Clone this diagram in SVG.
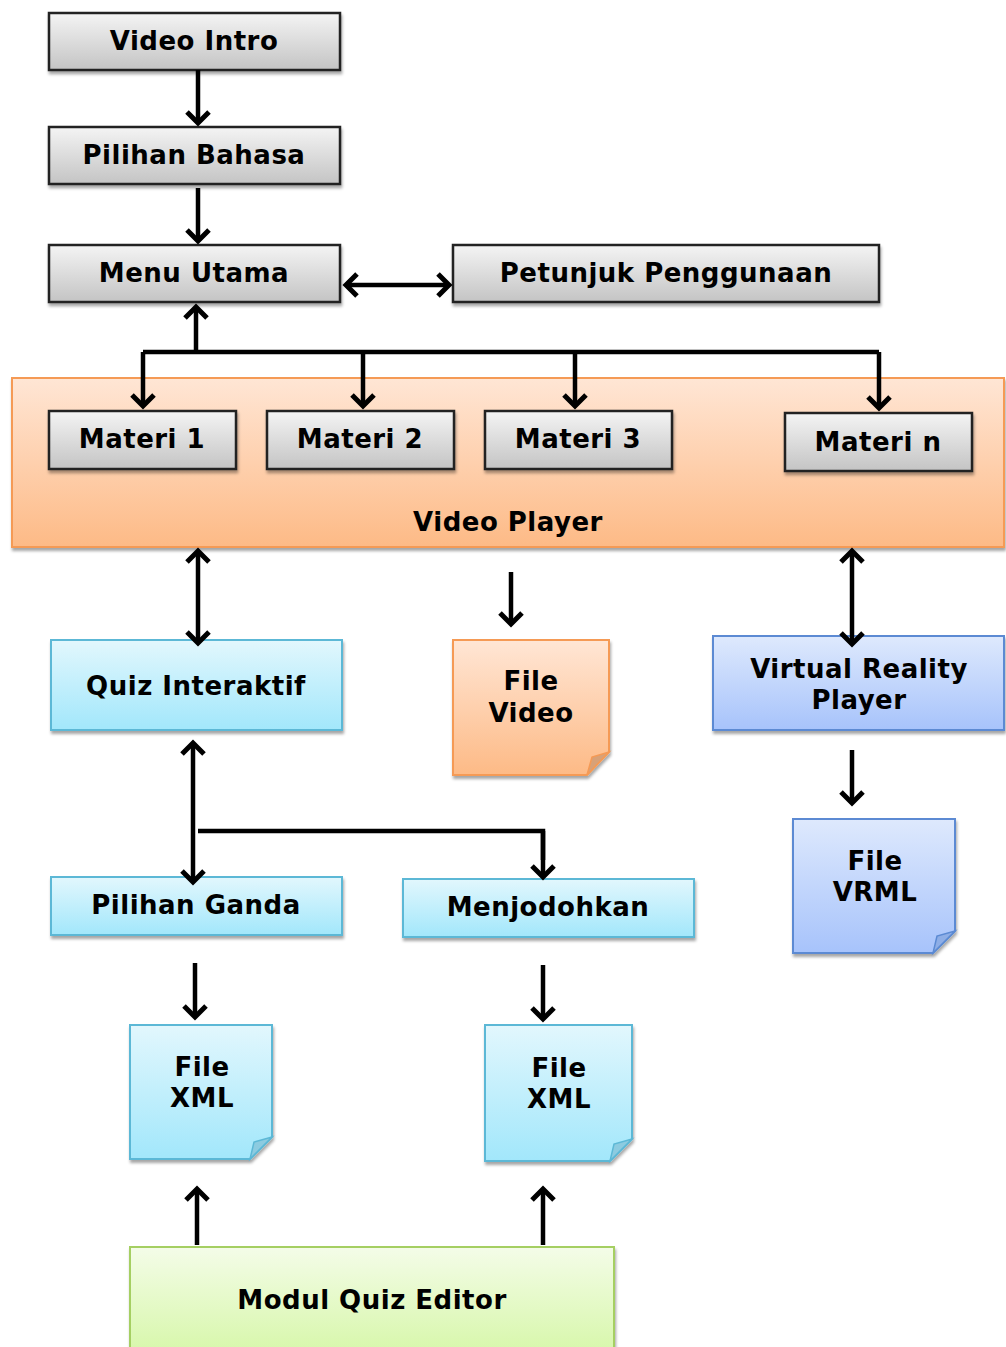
<svg xmlns="http://www.w3.org/2000/svg" width="1006" height="1347" viewBox="0 0 1006 1347">
<defs>
<linearGradient id="gGray" x1="0" y1="0" x2="0" y2="1"><stop offset="0" stop-color="#f4f4f4"/><stop offset="1" stop-color="#c4c4c4"/></linearGradient>
<linearGradient id="gOrange" x1="0" y1="0" x2="0" y2="1"><stop offset="0" stop-color="#ffe6d5"/><stop offset="1" stop-color="#fdba86"/></linearGradient>
<linearGradient id="gCyan" x1="0" y1="0" x2="0" y2="1"><stop offset="0" stop-color="#e2f7fd"/><stop offset="1" stop-color="#a2e7fb"/></linearGradient>
<linearGradient id="gBlue" x1="0" y1="0" x2="0" y2="1"><stop offset="0" stop-color="#dee9fd"/><stop offset="1" stop-color="#a7c3fb"/></linearGradient>
<linearGradient id="gGreen" x1="0" y1="0" x2="0" y2="1"><stop offset="0" stop-color="#f4fce8"/><stop offset="1" stop-color="#d6f7a8"/></linearGradient>
<filter id="sh" x="-5%" y="-5%" width="110%" height="120%"><feDropShadow dx="1" dy="3" stdDeviation="1.5" flood-color="#000" flood-opacity="0.35"/></filter>
<marker id="ah" viewBox="-14 -14 28 28" refX="0" refY="0" markerWidth="28" markerHeight="28" markerUnits="userSpaceOnUse" orient="auto-start-reverse">
<path d="M-11,-11 L0,0 L-11,11" fill="none" stroke="#000" stroke-width="5" stroke-linejoin="miter"/>
</marker>
</defs>
<style>
text{font-family:"DejaVu Sans","Verdana",sans-serif;font-weight:bold;font-size:26px;letter-spacing:0.5px;fill:#000;text-anchor:middle}
.gray{fill:url(#gGray);stroke:#222;stroke-width:2.5;filter:url(#sh)}
.orange{fill:url(#gOrange);stroke:#f59a55;stroke-width:2;filter:url(#sh)}
.cyan{fill:url(#gCyan);stroke:#5cb8d6;stroke-width:2;filter:url(#sh)}
.blue{fill:url(#gBlue);stroke:#5b8ad3;stroke-width:2;filter:url(#sh)}
.green{fill:url(#gGreen);stroke:#a5cf62;stroke-width:2;filter:url(#sh)}
.fold-o{fill:#d8a177;stroke:#f59a55;stroke-width:1.5}
.fold-c{fill:#8ccbe0;stroke:#5cb8d6;stroke-width:1.5}
.fold-b{fill:#8eaee6;stroke:#5b8ad3;stroke-width:1.5}
.ln{fill:none;stroke:#000;stroke-width:4.5}
.arr{fill:none;stroke:#000;stroke-width:4.5;marker-end:url(#ah)}
.arr2{fill:none;stroke:#000;stroke-width:4.5;marker-end:url(#ah);marker-start:url(#ah)}
</style>

<g id="video-player"><rect class="orange" x="12" y="378" width="992" height="169"/><text x="508" y="531">Video Player</text></g>
<g id="video-intro"><rect class="gray" x="49" y="13" width="291" height="57"/><text x="194" y="50">Video Intro</text></g>
<g id="pilihan-bahasa"><rect class="gray" x="49" y="127" width="291" height="57"/><text x="194" y="164">Pilihan Bahasa</text></g>
<g id="menu-utama"><rect class="gray" x="49" y="245" width="291" height="57"/><text x="194" y="282">Menu Utama</text></g>
<g id="petunjuk"><rect class="gray" x="453" y="245" width="426" height="57"/><text x="666" y="282">Petunjuk Penggunaan</text></g>
<g id="materi-1"><rect class="gray" x="49" y="411" width="187" height="58"/><text x="142" y="448">Materi 1</text></g>
<g id="materi-2"><rect class="gray" x="267" y="411" width="187" height="58"/><text x="360" y="448">Materi 2</text></g>
<g id="materi-3"><rect class="gray" x="485" y="411" width="187" height="58"/><text x="578" y="448">Materi 3</text></g>
<g id="materi-n"><rect class="gray" x="785" y="413" width="187" height="58"/><text x="878" y="451">Materi n</text></g>
<g id="quiz-interaktif"><rect class="cyan" x="51" y="640" width="291" height="90"/><text x="196" y="695">Quiz Interaktif</text></g>
<g id="file-video"><path class="orange" d="M453,640 H609 V752 L587,775 H453 Z"/><path class="fold-o" d="M609,752 L587,775 L592,757 Z"/><text x="531" y="690">File</text><text x="531" y="722">Video</text></g>
<g id="vr-player"><rect class="blue" x="713" y="636" width="291" height="94"/><text x="859" y="678">Virtual Reality</text><text x="859" y="709">Player</text></g>
<g id="file-vrml"><path class="blue" d="M793,819 H955 V931 L933,953 H793 Z"/><path class="fold-b" d="M955,931 L933,953 L937,936 Z"/><text x="875" y="870">File</text><text x="875" y="901">VRML</text></g>
<g id="pilihan-ganda"><rect class="cyan" x="51" y="877" width="291" height="58"/><text x="196" y="914">Pilihan Ganda</text></g>
<g id="menjodohkan"><rect class="cyan" x="403" y="879" width="291" height="58"/><text x="548" y="916">Menjodohkan</text></g>
<g id="file-xml-1"><path class="cyan" d="M130,1025 H272 V1137 L250,1159 H130 Z"/><path class="fold-c" d="M272,1137 L250,1159 L254,1142 Z"/><text x="202" y="1076">File</text><text x="202" y="1107">XML</text></g>
<g id="file-xml-2"><path class="cyan" d="M485,1025 H632 V1139 L610,1161 H485 Z"/><path class="fold-c" d="M632,1139 L610,1161 L614,1144 Z"/><text x="559" y="1077">File</text><text x="559" y="1108">XML</text></g>
<g id="modul-quiz-editor"><rect class="green" x="130" y="1247" width="484" height="110"/><text x="372" y="1309">Modul Quiz Editor</text></g>

<g id="connectors">
<line class="arr" x1="198" y1="70" x2="198" y2="123"/>
<line class="arr" x1="198" y1="188" x2="198" y2="241"/>
<line class="arr2" x1="346" y1="285" x2="449" y2="285"/>
<line class="arr" x1="196" y1="352" x2="196" y2="307"/>
<line class="ln" x1="143" y1="352" x2="879" y2="352"/>
<line class="arr" x1="143" y1="352" x2="143" y2="406"/>
<line class="arr" x1="363" y1="352" x2="363" y2="406"/>
<line class="arr" x1="575" y1="352" x2="575" y2="406"/>
<line class="arr" x1="879" y1="352" x2="879" y2="408"/>
<line class="arr2" x1="198" y1="551" x2="198" y2="643"/>
<line class="arr" x1="511" y1="572" x2="511" y2="624"/>
<line class="arr2" x1="852" y1="551" x2="852" y2="644"/>
<line class="arr" x1="852" y1="750" x2="852" y2="803"/>
<line class="arr2" x1="193" y1="743" x2="193" y2="882"/>
<path class="ln" d="M198,831 H543 V860"/>
<line class="arr" x1="543" y1="831" x2="543" y2="877"/>
<line class="arr" x1="195" y1="963" x2="195" y2="1017"/>
<line class="arr" x1="543" y1="965" x2="543" y2="1019"/>
<line class="arr" x1="197" y1="1245" x2="197" y2="1189"/>
<line class="arr" x1="543" y1="1245" x2="543" y2="1189"/>
</g>
</svg>
